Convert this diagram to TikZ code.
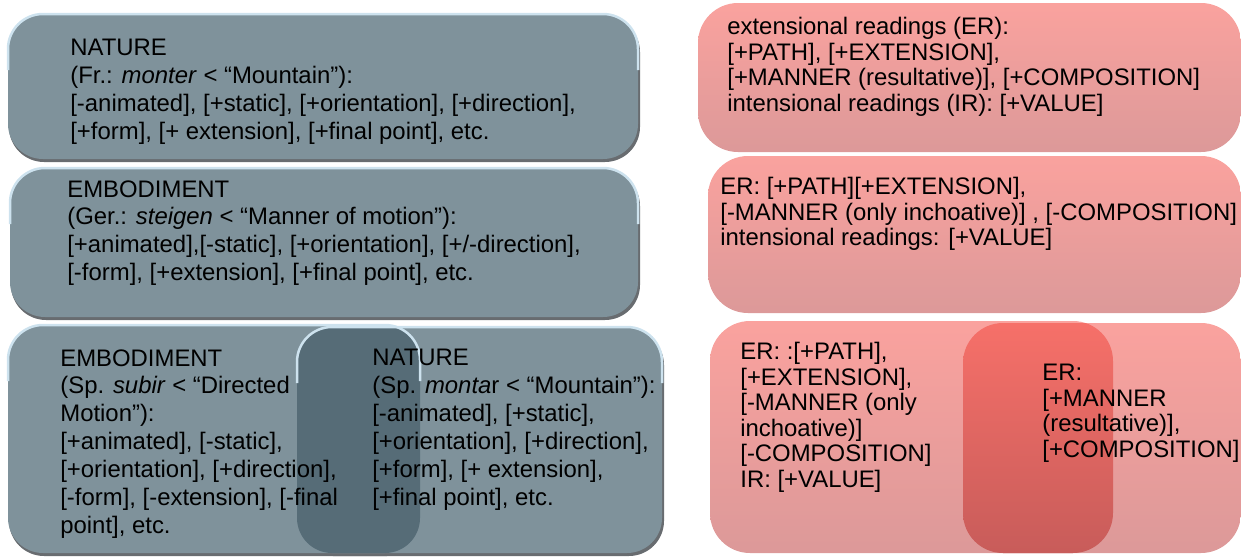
\documentclass[tikz,border=0pt]{standalone}
\usepackage{fontspec}
\setmainfont{Liberation Sans}
\usetikzlibrary{positioning}

\definecolor{slate}{RGB}{127,146,155}
\definecolor{slatedeep}{RGB}{86,108,119}
\definecolor{bevellight}{RGB}{205,226,238}
\definecolor{boxshade}{RGB}{104,108,112}
\definecolor{pinktop}{RGB}{250,162,158}
\definecolor{pinkbot}{RGB}{220,153,153}
\definecolor{redtop}{RGB}{246,112,105}
\definecolor{redbot}{RGB}{200,92,90}

\tikzset{
  slatebox/.style={fill=slate,rounded corners=7mm},
  slatedark/.style={fill=slatedeep,rounded corners=7mm},
  shadowbox/.style={fill=boxshade,rounded corners=7mm},
  bevel/.style={draw=bevellight,line width=0.5mm,rounded corners=7mm},
  pinkbox/.style={top color=pinktop,bottom color=pinkbot,rounded corners=8mm},
  redbox/.style={top color=redtop,bottom color=redbot,rounded corners=8mm},
  txt/.style={anchor=north west,inner sep=0pt,align=left,
    font=\fontsize{13.6pt}{15.9pt}\selectfont},
  rtxt/.style={txt,font=\fontsize{13.6pt}{14.5pt}\selectfont}
}

\begin{document}
\begin{tikzpicture}[x=0.2mm,y=-0.2mm]

\useasboundingbox (0,0) rectangle (1241,559);

\fill[shadowbox] (9,17) rectangle (640,162);
\fill[slatebox] (8,14) rectangle (638,159);
\draw[bevel] (8,70) -- (8,14) -- (638,14) -- (638,70);

\fill[shadowbox] (11,171) rectangle (640,320);
\fill[slatebox] (10,168) rectangle (638,317);
\draw[bevel] (10,224) -- (10,168) -- (638,168) -- (638,224);

\fill[shadowbox] (9,328) rectangle (422,556);
\fill[shadowbox] (298,330) rectangle (664,556);
\fill[slatebox] (8,325) rectangle (420,553);
\fill[slatebox] (297,327) rectangle (662,553);
\begin{scope}
\clip[rounded corners=7mm] (8,325) rectangle (420,553);
\fill[slatedark] (297,327) rectangle (662,553);
\end{scope}
\draw[bevel] (8,381) -- (8,325) -- (420,325) -- (420,381);
\draw[bevel] (297,383) -- (297,327) -- (662,327) -- (662,383);

\shade[pinkbox] (698,3) rectangle (1241,152);
\shade[pinkbox] (708,156) rectangle (1241,313);
\shade[pinkbox] (710,321) rectangle (1113,553);
\shade[pinkbox] (963,323) rectangle (1241,553);
\begin{scope}
\clip[rounded corners=8mm] (710,321) rectangle (1113,553);
\shade[redbox] (963,323) rectangle (1241,553);
\end{scope}

\node[txt] (nature) at (70,39) {NATURE\\
  (Fr.: \textit{monter} < “Mountain”):\\
  {}[-animated], [+static], [+orientation], [+direction],\\
  {}[+form], [+ extension], [+final point], etc.};
\node[txt] (embodiment) at (67,180) {EMBODIMENT\\
  (Ger.: \textit{steigen} < “Manner of motion”):\\
  {}[+animated],[-static], [+orientation], [+/-direction],\\
  {}[-form], [+extension], [+final point], etc.};
\node[txt] (embodimentsp) at (60,349) {EMBODIMENT\\
  (Sp. \textit{subir} < “Directed\\
  Motion”):\\
  {}[+animated], [-static],\\
  {}[+orientation], [+direction],\\
  {}[-form], [-extension], [-final\\
  point], etc.};
\node[txt] (naturesp) at (372,349) {NATURE\\
  (Sp. \textit{monta}r < “Mountain”):\\
  {}[-animated], [+static],\\
  {}[+orientation], [+direction],\\
  {}[+form], [+ extension],\\
  {}[+final point], etc.};

\node[rtxt] (readings) at (727,17) {extensional readings (ER):\\
  {}[+PATH], [+EXTENSION],\\
  {}[+MANNER (resultative)], [+COMPOSITION]\\
  intensional readings (IR): [+VALUE]};
\node[rtxt] (readingsger) at (720,177) {ER: [+PATH][+EXTENSION],\\
  {}[-MANNER (only inchoative)] , [-COMPOSITION]\\
  intensional readings: [+VALUE]};
\node[rtxt] (readingssp) at (740,342) {ER: :[+PATH],\\
  {}[+EXTENSION],\\
  {}[-MANNER (only\\
  inchoative)]\\
  {}[-COMPOSITION]\\
  IR: [+VALUE]};
\node[rtxt] (readingsres) at (1042,364) {ER:\\
  {}[+MANNER\\
  (resultative)],\\
  {}[+COMPOSITION]};
\end{tikzpicture}
\end{document}
